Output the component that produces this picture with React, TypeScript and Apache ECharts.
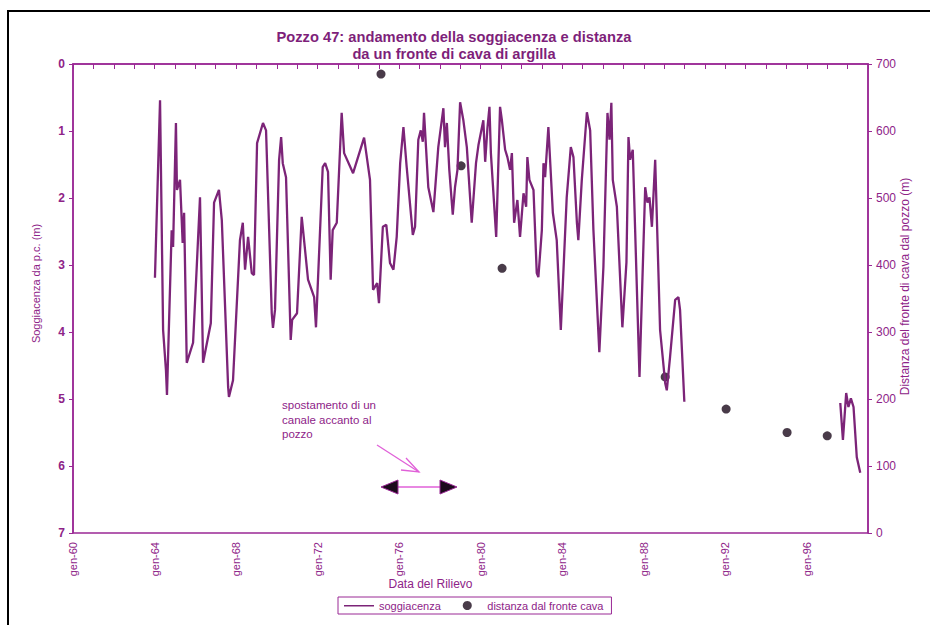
import React, { useEffect, useRef } from "react";
import * as echarts from "echarts";

const titleLines = [
  "Pozzo 47: andamento della soggiacenza e distanza",
  "da un fronte di cava di argilla",
];
const xAxisName = "Data del Rilievo";
const leftAxisName = "Soggiacenza da p.c. (m)";
const rightAxisName = "Distanza del fronte di cava dal pozzo (m)";
const annotationLines = ["spostamento di un", "canale accanto al", "pozzo"];

// soggiacenza: [anno decimale, profondità (m)]
const soggiacenza1: [number, number][] = [
  [1964.02, 3.19], [1964.27, 0.54], [1964.42, 3.97], [1964.56, 4.57], [1964.61, 4.94],
  [1964.84, 2.48], [1964.91, 2.73], [1965.05, 0.88], [1965.1, 1.88], [1965.25, 1.73],
  [1965.38, 2.67], [1965.45, 2.22], [1965.58, 4.46], [1965.89, 4.16], [1966.07, 3.03],
  [1966.23, 1.99], [1966.38, 4.46], [1966.76, 3.87], [1966.92, 2.07], [1967.16, 1.88],
  [1967.3, 2.33], [1967.61, 4.82], [1967.65, 4.97], [1967.85, 4.72], [1968.19, 2.63],
  [1968.33, 2.37], [1968.44, 3.07], [1968.59, 2.58], [1968.77, 3.12], [1968.88, 3.15],
  [1969.03, 1.18], [1969.32, 0.88], [1969.47, 0.99], [1969.75, 3.72], [1969.81, 3.94],
  [1969.91, 3.67], [1970.11, 1.43], [1970.21, 1.09], [1970.29, 1.48], [1970.45, 1.69],
  [1970.68, 4.12], [1970.75, 3.82], [1970.99, 3.72], [1971.22, 2.28], [1971.27, 2.43],
  [1971.53, 3.22], [1971.83, 3.48], [1971.92, 3.93], [1972.25, 1.54], [1972.37, 1.48],
  [1972.51, 1.61], [1972.64, 3.22], [1972.74, 2.48], [1972.94, 2.37], [1973.18, 0.73],
  [1973.3, 1.33], [1973.74, 1.63], [1974.28, 1.1], [1974.57, 1.73], [1974.72, 3.37],
  [1974.92, 3.27], [1975.01, 3.57], [1975.2, 2.43], [1975.37, 2.4], [1975.55, 2.97],
  [1975.72, 3.07], [1975.88, 2.58], [1976.05, 1.48], [1976.21, 0.94], [1976.37, 1.54],
  [1976.67, 2.55], [1976.78, 2.43], [1976.94, 1.13], [1977.06, 0.99], [1977.16, 1.16],
  [1977.22, 0.73], [1977.43, 1.84], [1977.68, 2.21], [1977.92, 1.24], [1978.17, 0.66],
  [1978.25, 1.24], [1978.34, 0.88], [1978.46, 1.58], [1978.63, 2.25], [1978.74, 1.84],
  [1978.86, 1.58], [1978.99, 0.57], [1979.15, 0.84], [1979.32, 1.24], [1979.56, 2.37],
  [1979.77, 1.48], [1979.89, 1.21], [1980.13, 0.84], [1980.22, 1.46], [1980.33, 0.96],
  [1980.43, 0.64], [1980.5, 1.33], [1980.76, 2.58], [1980.95, 0.64], [1981.04, 0.84],
  [1981.2, 1.28], [1981.31, 1.39], [1981.44, 1.58], [1981.53, 1.33], [1981.64, 2.37],
  [1981.8, 2.03], [1981.93, 2.58], [1982.1, 1.93], [1982.23, 2.13], [1982.29, 1.39],
  [1982.39, 1.73], [1982.59, 1.88], [1982.75, 3.12], [1982.83, 3.18], [1983.0, 2.48],
  [1983.08, 1.48], [1983.16, 1.69], [1983.32, 0.94], [1983.54, 2.22], [1983.73, 2.63],
  [1983.93, 3.97], [1984.22, 1.99], [1984.42, 1.24], [1984.55, 1.39], [1984.72, 2.37],
  [1984.79, 2.63], [1984.96, 1.73], [1985.21, 0.72], [1985.37, 0.99], [1985.53, 2.48],
  [1985.82, 4.3], [1986.02, 3.03], [1986.22, 0.73], [1986.32, 1.13], [1986.41, 0.58],
  [1986.48, 1.73], [1986.68, 2.13], [1986.95, 3.93], [1987.15, 2.96], [1987.25, 1.09],
  [1987.33, 1.43], [1987.46, 1.28], [1987.79, 4.67], [1988.07, 1.84], [1988.18, 2.07],
  [1988.28, 1.99], [1988.4, 2.43], [1988.56, 1.43], [1988.8, 3.97], [1989.05, 4.76],
  [1989.13, 4.87], [1989.29, 4.37], [1989.54, 3.52], [1989.7, 3.48], [1989.78, 3.67],
  [1989.99, 5.04],
];
const soggiacenza2: [number, number][] = [
  [1997.64, 5.06], [1997.77, 5.61], [1997.93, 4.91], [1998.04, 5.12], [1998.16, 4.99],
  [1998.29, 5.12], [1998.45, 5.87], [1998.62, 6.1],
];

// distanza dal fronte cava: [anno, metri]
const distanzaAnni = [1975.11, 1979.04, 1981.05, 1989.05, 1992.04, 1995.03, 1997.0];
const distanzaValori = [685, 548, 395, 233, 185, 150, 145];

const PURPLE = "#9a2895";
const TEXT = "#8e2388";
const LINE = "#7c2478";
const LEGEND_LINE_ICON = "path://M0,0 L0,0 Z M0,4 L30,4 L30,5.4 L0,5.4 Z M0,9 L0,9 Z";

export default function App() {
  const ref = useRef<HTMLDivElement>(null);
  useEffect(() => {
    if (!ref.current) return;
    const chart = echarts.init(ref.current, undefined, { renderer: "svg" });
    const lineData: any[] = [...soggiacenza1, null, ...soggiacenza2];
    const scatterData = distanzaAnni.map((a, i) => [a, distanzaValori[i]]);
    const font = "Liberation Sans, Arial, sans-serif";
    chart.setOption({
      animation: false,
      backgroundColor: "#ffffff",
      textStyle: { fontFamily: font },
      grid: {
        left: 73,
        right: 62,
        top: 64,
        bottom: 92,
        show: true,
        borderColor: PURPLE,
        borderWidth: 1.5,
        backgroundColor: "transparent",
      },
      legend: {
        left: 338,
        top: 597,
        padding: [3, 8, 3, 6],
        itemGap: 22,
        itemWidth: 30,
        itemHeight: 9,
        borderColor: PURPLE,
        borderWidth: 1,
        textStyle: { color: TEXT, fontSize: 11, fontFamily: font },
        data: [
          { name: "soggiacenza", icon: LEGEND_LINE_ICON },
          { name: "distanza dal fronte cava", icon: "circle" },
        ],
      },
      xAxis: {
        type: "value",
        min: 1960,
        max: 1999,
        interval: 1,
        name: xAxisName,
        nameLocation: "middle",
        nameGap: 45,
        nameMoveOverlap: false,
        nameTextStyle: { color: TEXT, fontSize: 12, fontFamily: font, padding: [0, 80, 0, 0] },
        axisLine: { show: true, lineStyle: { color: PURPLE, width: 1.5 } },
        axisTick: { show: true, length: 5, lineStyle: { color: PURPLE } },
        splitLine: { show: false },
        axisLabel: {
          rotate: 90,
          margin: 9,
          color: TEXT,
          fontSize: 11,
          fontFamily: font,
          formatter: (v: number) =>
            v % 4 === 0 && v < 1999 ? "gen-" + String(v).slice(2) : "",
        },
      },
      yAxis: [
        {
          type: "value",
          inverse: true,
          min: 0,
          max: 7,
          interval: 1,
          position: "left",
          name: leftAxisName,
          nameLocation: "middle",
          nameRotate: 90,
          nameGap: 32,
          nameMoveOverlap: false,
          nameTextStyle: { color: TEXT, fontSize: 11, fontFamily: font, padding: [0, 0, 0, 30] },
          axisLine: { show: true, lineStyle: { color: PURPLE, width: 1.5 } },
          axisTick: { show: true, length: 4, lineStyle: { color: PURPLE } },
          splitLine: { show: false },
          axisLabel: { color: TEXT, fontSize: 12, fontWeight: "bold", margin: 8, fontFamily: font },
        },
        {
          type: "value",
          min: 0,
          max: 700,
          interval: 100,
          position: "right",
          name: rightAxisName,
          nameLocation: "middle",
          nameRotate: 90,
          nameGap: 31,
          nameMoveOverlap: false,
          nameTextStyle: { color: TEXT, fontSize: 12, fontFamily: font, padding: [0, 0, 0, 24] },
          axisLine: { show: true, lineStyle: { color: PURPLE, width: 1.5 } },
          axisTick: { show: true, length: 4, lineStyle: { color: PURPLE } },
          splitLine: { show: false },
          axisLabel: { color: TEXT, fontSize: 12, margin: 8, fontFamily: font },
        },
      ],
      series: [
        {
          name: "soggiacenza",
          type: "line",
          yAxisIndex: 0,
          data: lineData,
          symbol: "none",
          connectNulls: false,
          lineStyle: { color: LINE, width: 2.3 },
          itemStyle: { color: LINE },
        },
        {
          name: "distanza dal fronte cava",
          type: "scatter",
          yAxisIndex: 1,
          data: scatterData,
          symbol: "circle",
          symbolSize: 9,
          itemStyle: { color: "#1c0a1c" },
        },
      ],
      graphic: [
        {
          type: "rect",
          shape: { x: 8, y: 11, width: 940, height: 640 },
          style: { fill: "none", stroke: "#000000", lineWidth: 2 },
          silent: true,
        },
        {
          type: "text",
          x: 454,
          y: 28,
          style: {
            text: titleLines.join("\n"),
            fill: "#7e1f7a",
            font: "bold 14.7px Liberation Sans, Arial, sans-serif",
            textAlign: "center",
            textVerticalAlign: "top",
            lineHeight: 17,
          },
        },
        {
          type: "text",
          x: 282,
          y: 398,
          style: {
            text: annotationLines.join("\n"),
            fill: TEXT,
            font: "11.5px Liberation Sans, Arial, sans-serif",
            lineHeight: 14.5,
          },
        },
        {
          type: "line",
          shape: { x1: 377, y1: 445, x2: 419, y2: 472 },
          style: { stroke: "#e060d8", lineWidth: 1.3 },
        },
        {
          type: "polyline",
          shape: { points: [[406, 458], [419, 472], [401, 470]] },
          style: { stroke: "#e060d8", lineWidth: 1.3, fill: "none" },
        },
        {
          type: "line",
          shape: { x1: 392, y1: 487, x2: 446, y2: 487 },
          style: { stroke: "#e060d8", lineWidth: 1.5 },
        },
        {
          type: "polygon",
          shape: { points: [[381, 487], [398, 480], [398, 494]] },
          style: { fill: "#1c0a1c", stroke: PURPLE, lineWidth: 1 },
        },
        {
          type: "polygon",
          shape: { points: [[457, 487], [440, 480], [440, 494]] },
          style: { fill: "#1c0a1c", stroke: PURPLE, lineWidth: 1 },
        },
      ],
    });
    return () => chart.dispose();
  }, []);
  return (
    <div
      ref={ref}
      style={{ position: "fixed", left: 0, top: 0, width: 930, height: 625 }}
    />
  );
}
